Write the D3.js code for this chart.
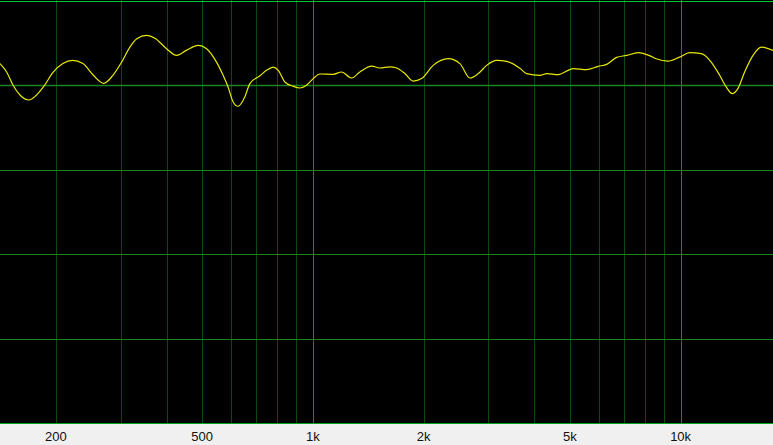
<!DOCTYPE html>
<html>
<head>
<meta charset="utf-8">
<script src="https://cdn.jsdelivr.net/npm/d3@7"></script>
<style>
  html, body { margin: 0; padding: 0; background: #000; overflow: hidden; }
  svg { display: block; }
</style>
</head>
<body>
<svg id="chart" width="773" height="445"></svg>
<script>
let width = 773, height = 445;
// plot area ends where the label strip starts
let plotBottom = 423.5;

// frequency response, Hz / dB
let freqs = [141, 147, 153, 160, 169, 177, 185, 197, 209, 222, 237, 253, 270, 286, 302, 318, 332, 353, 372, 400,
  426, 453, 488, 514, 547, 570, 588, 607, 626, 653, 674, 718, 748, 780, 805, 839, 884, 922, 961, 1002,
  1045, 1136, 1197, 1274, 1342, 1444, 1521, 1620, 1689, 1779, 1874, 1975, 2124, 2333, 2511, 2673, 2816, 2968, 3160, 3364,
  3656, 3813, 4144, 4322, 4647, 5105, 5552, 5969, 6291, 6698, 7133, 7668, 8252, 8583, 9237, 9938, 10580, 11380, 12110, 12770,
  13300, 13810, 14310, 14930, 15730, 16570, 17830];
let levels = [2.54, 1.55, -0.02, -1.2, -1.76, -1.2, -0.22, 1.55, 2.54, 2.92, 2.54, 1.16, 0.21, 1.16, 2.72, 4.49, 5.48, 5.87, 5.55, 4.3,
  3.51, 4.1, 4.69, 4.3, 2.72, 1.16, -0.22, -1.99, -2.5, -1.4, 0.18, 1.1, 1.75, 2.13, 1.75, 0.37, -0.14, -0.34, -0.02, 0.77,
  1.31, 1.27, 1.55, 0.84, 1.55, 2.25, 2.02, 2.16, 2.02, 1.36, 0.48, 0.77, 2.33, 3.12, 2.54, 0.84, 1.36, 2.33, 2.92, 2.81,
  1.98, 1.36, 1.16, 1.36, 1.24, 1.95, 1.83, 2.22, 2.45, 3.28, 3.51, 3.83, 3.46, 3.12, 2.84, 3.31, 3.83, 3.71, 2.72, 1.16,
  -0.22, -1.0, -0.41, 1.55, 3.51, 4.49, 4.1];

let gridFreqs = [200, 300, 400, 500, 600, 700, 800, 900, 1000,
  2000, 3000, 4000, 5000, 6000, 7000, 8000, 9000, 10000];
let majorFreqs = [1000, 10000];
let labelFreqs = [200, 500, 1000, 2000, 5000, 10000];
let labelText = ['200', '500', '1k', '2k', '5k', '10k'];
let dbLines = [10, 0, -10, -20, -30, -40];

let svg = d3.select('#chart');

let x = d3.scaleLog().domain([141, 17830]).range([0, width]);
let y = d3.scaleLinear().domain([-40, 10]).range([plotBottom, 0.5]);

svg.append('rect')
  .attr('width', width).attr('height', height)
  .attr('fill', '#000');

// vertical grid
svg.append('g')
  .selectAll('line')
  .data(gridFreqs)
  .join('line')
  .attr('x1', d => Math.round(x(d)) + 0.5)
  .attr('x2', d => Math.round(x(d)) + 0.5)
  .attr('y1', 0)
  .attr('y2', plotBottom)
  .attr('stroke', d => majorFreqs.includes(d) ? '#1a8c22' : '#0b4a0e')
  .attr('stroke-width', 1);

// horizontal grid
svg.append('g')
  .selectAll('line')
  .data(dbLines)
  .join('line')
  .attr('x1', 0)
  .attr('x2', width)
  .attr('y1', d => Math.round(y(d)) + 0.5)
  .attr('y2', d => Math.round(y(d)) + 0.5)
  .attr('stroke', d => (d === 10 || d === -40) ? '#00c832' : '#1a8422')
  .attr('stroke-width', d => d === 0 ? 1.6 : 1.2);

// response curve
let line = d3.line()
  .x((d, i) => x(freqs[i]))
  .y(d => y(d))
  .curve(d3.curveMonotoneX);

svg.append('path')
  .datum(levels)
  .attr('d', line)
  .attr('fill', 'none')
  .attr('stroke', '#e8e800')
  .attr('stroke-width', 1.2);

// label strip
svg.append('rect')
  .attr('x', 0).attr('y', plotBottom + 0.5)
  .attr('width', width).attr('height', height - plotBottom)
  .attr('fill', '#f0f0f0');

svg.append('line')
  .attr('x1', 0).attr('x2', width)
  .attr('y1', plotBottom).attr('y2', plotBottom)
  .attr('stroke', '#00a020').attr('stroke-width', 1);

svg.append('g')
  .selectAll('text')
  .data(labelFreqs)
  .join('text')
  .attr('x', d => x(d))
  .attr('y', 441)
  .attr('text-anchor', 'middle')
  .attr('font-family', 'Liberation Sans, Arial, sans-serif')
  .attr('font-size', 13)
  .attr('fill', '#111')
  .text((d, i) => labelText[i]);
</script>
</body>
</html>
